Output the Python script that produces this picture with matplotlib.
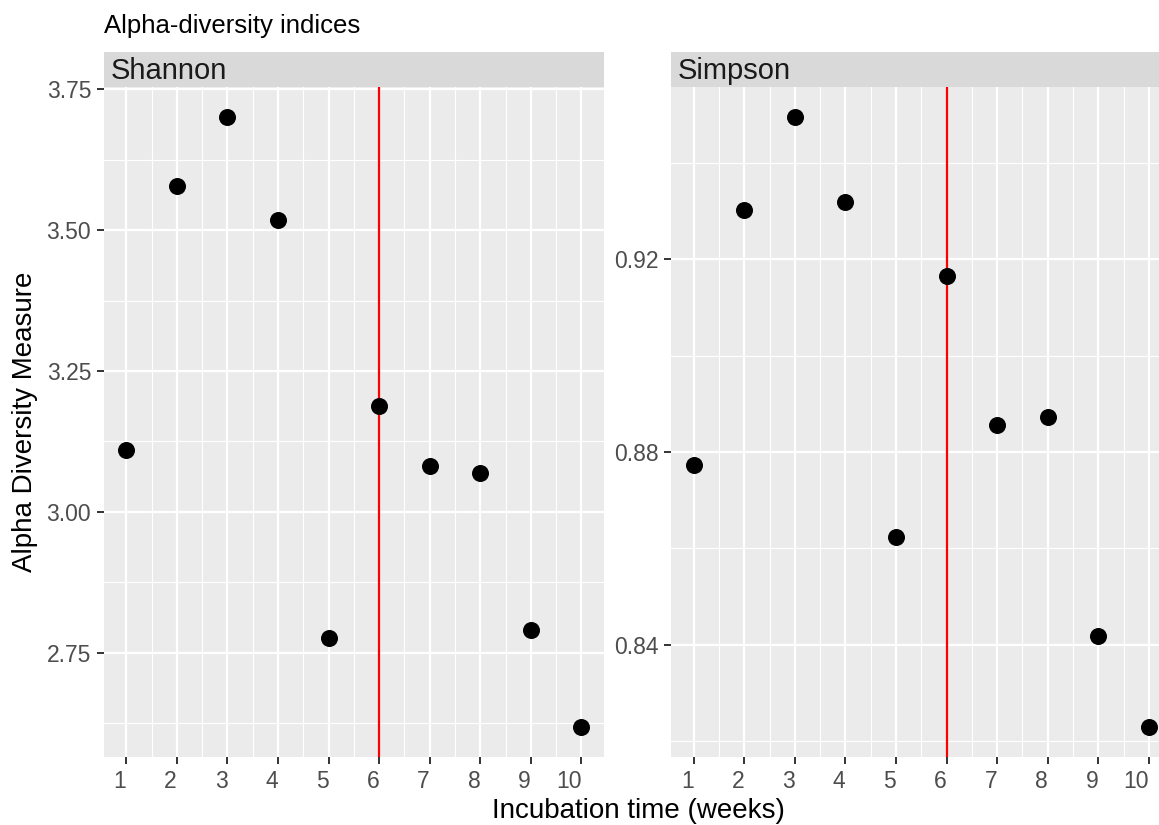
import matplotlib
matplotlib.use("Agg")
import matplotlib.pyplot as plt
from matplotlib.ticker import MultipleLocator, FixedLocator, FormatStrFormatter

plt.rcParams['font.family'] = ['Liberation Sans', 'DejaVu Sans']

weeks = [1, 2, 3, 4, 5, 6, 7, 8, 9, 10]
shannon = [3.110, 3.578, 3.700, 3.518, 2.776, 3.188, 3.082, 3.069, 2.790, 2.619]
simpson = [0.8773, 0.9302, 0.9494, 0.9319, 0.8624, 0.9164, 0.8856, 0.8873, 0.8417, 0.8230]
panel_names = ["Shannon", "Simpson"]
vline_week = 6
title = "Alpha-diversity indices"
xlabel = "Incubation time (weeks)"
ylabel = "Alpha Diversity Measure"

W, H = 1159, 825
fig = plt.figure(figsize=(W / 100, H / 100), dpi=100)

def fx(px):
    return px / W

def fy(py):
    return 1 - py / H

panel_top, panel_bot = 87, 757
strip_top = 52
lefts = [103.6, 671.0]
pw = 500.6

series = [shannon, simpson]
ymaj = [0.25, 0.04]

def expand(vals):
    lo, hi = min(vals), max(vals)
    r = hi - lo
    return lo - 0.05 * r, hi + 0.05 * r

for i, (name, vals) in enumerate(zip(panel_names, series)):
    ax = fig.add_axes([fx(lefts[i]), fy(panel_bot), fx(pw), (panel_bot - panel_top) / H])
    ax.set_facecolor('#EBEBEB')
    for s in ax.spines.values():
        s.set_visible(False)
    ax.set_xlim(*expand(weeks))
    ax.set_ylim(*expand(vals))
    ax.xaxis.set_major_locator(FixedLocator(weeks))
    ax.xaxis.set_minor_locator(FixedLocator([w + 0.5 for w in weeks[:-1]]))
    ax.yaxis.set_major_locator(MultipleLocator(ymaj[i]))
    ax.yaxis.set_minor_locator(MultipleLocator(ymaj[i] / 2))
    ax.grid(which='major', color='white', linewidth=1.6)
    ax.grid(which='minor', color='white', linewidth=0.8)
    ax.set_axisbelow(True)
    ax.tick_params(which='major', length=5, width=1.4, color='#333333',
                   labelsize=16.5, labelcolor='#4D4D4D', pad=4)
    ax.tick_params(which='minor', length=0)
    ax.yaxis.set_major_formatter(FormatStrFormatter('%.2f'))
    ax.set_xticks(weeks)
    ax.set_xticklabels([str(w) for w in weeks], ha='right')
    ax.axvline(vline_week, color='#FF0000', linewidth=1.6, zorder=2)
    ax.scatter(weeks, vals, s=150, color='black', zorder=3, linewidths=0)

    sax = fig.add_axes([fx(lefts[i]), fy(panel_top), fx(pw), (panel_top - strip_top) / H])
    sax.set_facecolor('#D9D9D9')
    sax.set_xticks([]); sax.set_yticks([])
    for s in sax.spines.values():
        s.set_visible(False)
    sax.text(7.0 / pw, 0.45, name, transform=sax.transAxes, ha='left', va='center',
             fontsize=21, color='#1A1A1A')

fig.text(fx(104), fy(26), title, ha='left', va='center', fontsize=18.5, color='black')
fig.text(fx(638), fy(811), xlabel, ha='center', va='center', fontsize=20, color='black')
fig.text(fx(25), fy(422), ylabel, ha='center', va='center', rotation=90, fontsize=20, color='black')

fig.savefig('out.png', dpi=100, facecolor='white')
